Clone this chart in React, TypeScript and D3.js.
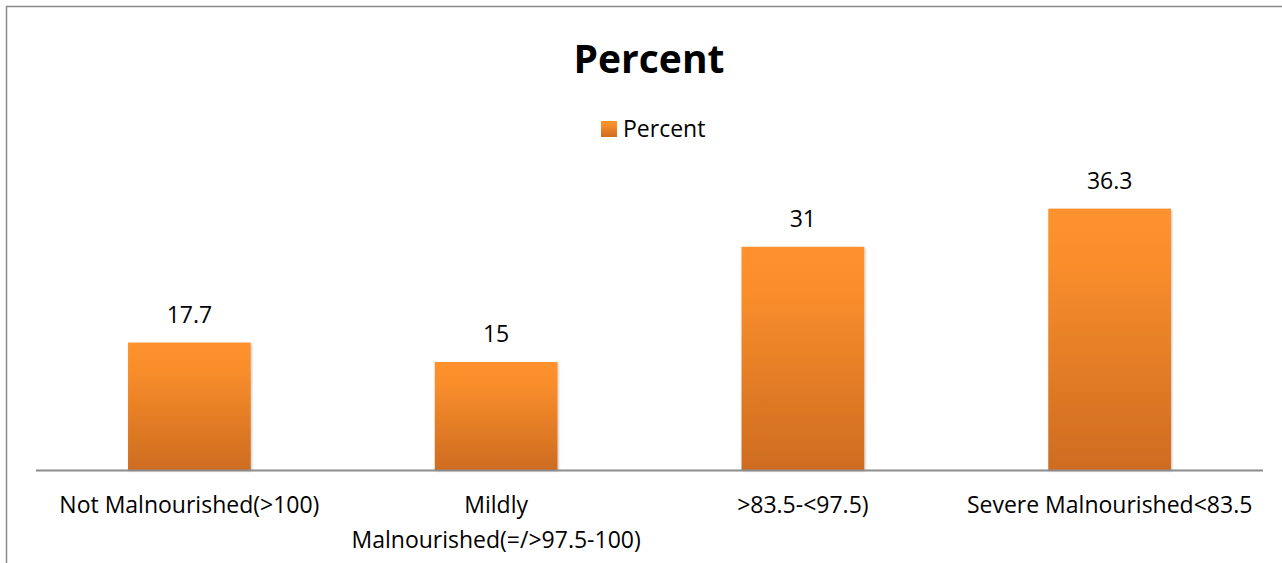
import React from "react";
import * as d3 from "d3";

const categories: string[][] = [
  ["Not Malnourished(>100)"],
  ["Mildly", "Malnourished(=/>97.5-100)"],
  [">83.5-<97.5)"],
  ["Severe Malnourished<83.5"],
];
const categoryKeys = ["not", "mild", "moderate", "severe"];
const percentValues = [17.7, 15, 31, 36.3];
const valueLabels = ["17.7", "15", "31", "36.3"];
const seriesName = "Percent";
const chartTitle = "Percent";

const W = 1282;
const H = 563;
const FONT = "'Open Sans', Lato, sans-serif";

export default function App() {
  const x = d3.scaleBand<string>().domain(categoryKeys).range([36, 1263]).paddingInner(0.6).paddingOuter(0.3);
  const y = d3.scaleLinear().domain([0, 40]).range([470, 182]);

  return (
    <svg
      width={W}
      height={H}
      style={{ position: "fixed", left: 0, top: 0, background: "#fff" }}
      fontFamily={FONT}
    >
      <defs>
        <linearGradient id="barFill" x1="0" y1="0" x2="0" y2="1">
          <stop offset="0" stopColor="#FF922D" />
          <stop offset="0.2" stopColor="#F98E2C" />
          <stop offset="1" stopColor="#CE6C20" />
        </linearGradient>
        <filter id="barShadow" x="-10%" y="-10%" width="120%" height="120%">
          <feDropShadow dx="1" dy="1" stdDeviation="1.2" floodColor="#000" floodOpacity="0.25" />
        </filter>
      </defs>

      {/* chart frame */}
      <line x1={6.5} y1={6} x2={6.5} y2={H} stroke="#8a8a8a" strokeWidth={1.5} />
      <line x1={6} y1={6.5} x2={W} y2={6.5} stroke="#8a8a8a" strokeWidth={1.5} />

      <text x={649} y={73} textAnchor="middle" fontSize={39} fontWeight={700} fill="#000">
        {chartTitle}
      </text>

      {/* legend */}
      <rect x={601} y={121} width={16} height={16} fill="url(#barFill)" />
      <text x={623} y={137} fontSize={23} fill="#000">
        {seriesName}
      </text>

      {/* bars */}
      {percentValues.map((v, i) => {
        const k = categoryKeys[i];
        const bx = x(k)!;
        return (
          <g key={k}>
            <rect
              x={bx}
              y={y(v)}
              width={x.bandwidth()}
              height={y(0) - y(v)}
              fill="url(#barFill)"
              filter="url(#barShadow)"
            />
            <text
              x={bx + x.bandwidth() / 2}
              y={y(v) - 20}
              textAnchor="middle"
              fontSize={23}
              fill="#000"
            >
              {valueLabels[i]}
            </text>
          </g>
        );
      })}

      {/* category axis */}
      <line x1={36} y1={470.5} x2={1263} y2={470.5} stroke="#8c8c8c" strokeWidth={2} />
      {categories.map((lines, i) => {
        const cx = x(categoryKeys[i])! + x.bandwidth() / 2;
        return (
          <text key={categoryKeys[i]} x={cx} y={513} textAnchor="middle" fontSize={23} fill="#000">
            {lines.map((t, j) => (
              <tspan key={j} x={cx} dy={j === 0 ? 0 : 35}>
                {t}
              </tspan>
            ))}
          </text>
        );
      })}
    </svg>
  );
}
